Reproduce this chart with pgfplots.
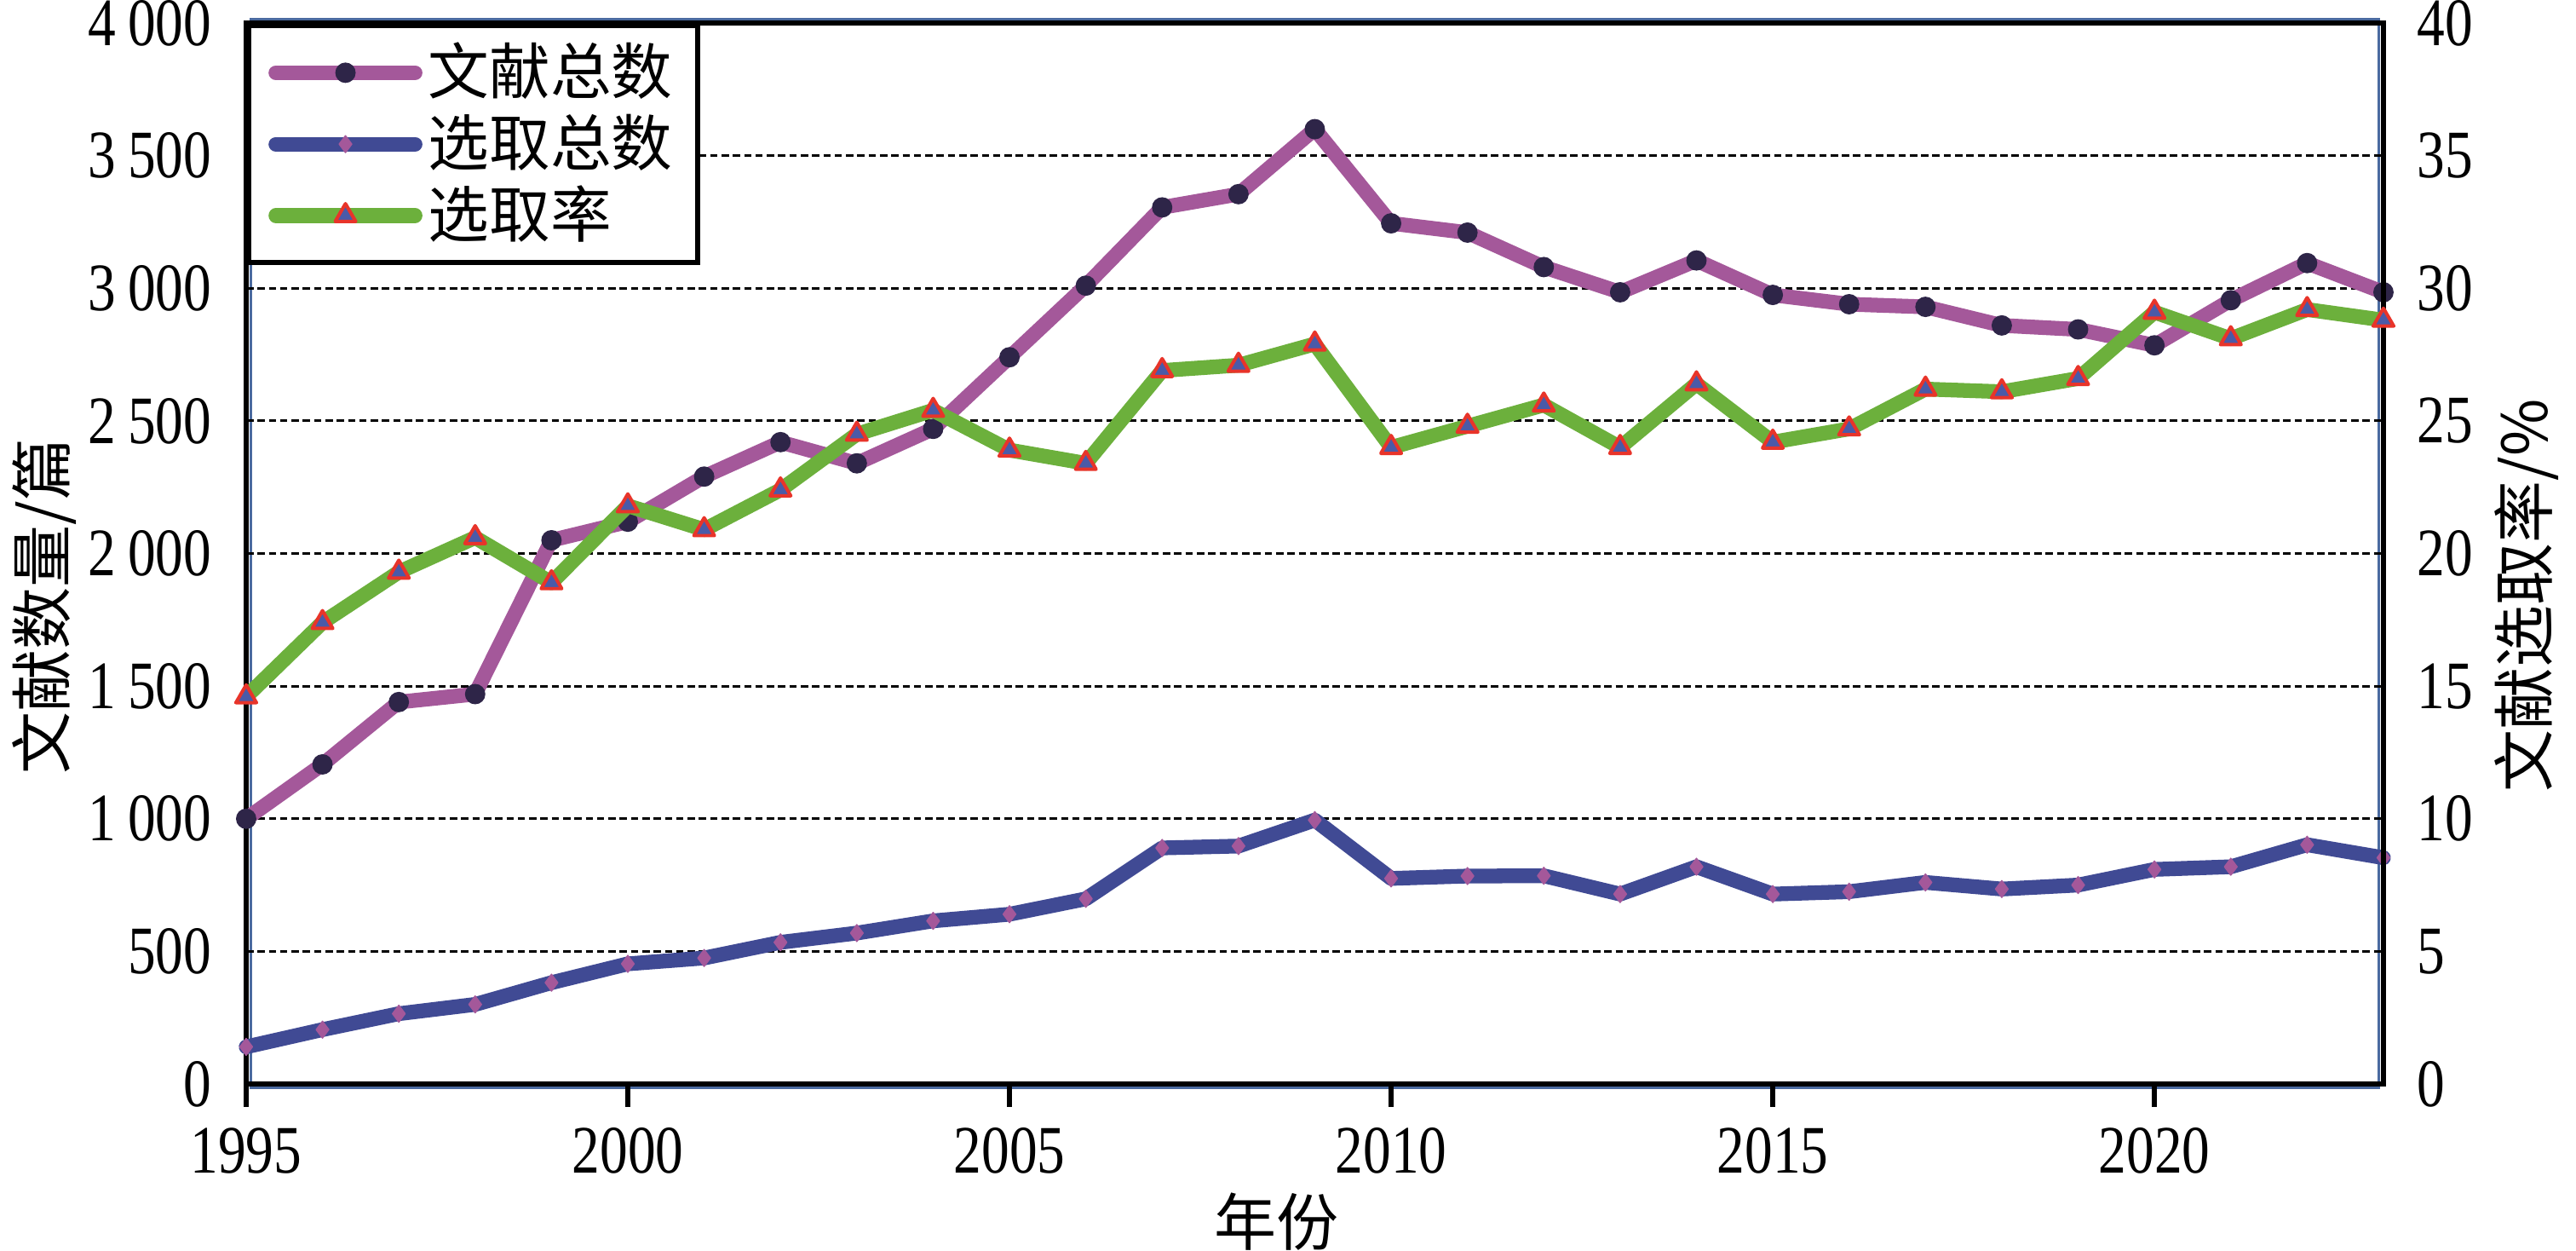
\documentclass[border=0pt]{standalone}
\usepackage{fontspec}
\setmainfont{Liberation Serif}
\newfontfamily\cjk{Noto Sans CJK SC}
\usepackage{graphicx}
\usepackage{pgfplots}
\usepackage{pgfplotstable}
\pgfplotsset{compat=1.18}

\definecolor{cPurple}{RGB}{164,88,154}
\definecolor{cBlue}{RGB}{64,74,148}
\definecolor{cGreen}{RGB}{108,176,60}
\definecolor{cDark}{RGB}{46,37,72}
\definecolor{cTriFill}{RGB}{74,90,168}
\definecolor{cRed}{RGB}{232,52,42}
\definecolor{cFrame}{RGB}{74,106,160}

\pgfplotstableread{
year total selected rate
1995 1000 140 14.6
1996 1205 205 17.4
1997 1440 265 19.3
1998 1470 300 20.6
1999 2050 382 18.9
2000 2120 453 21.8
2001 2290 475 20.9
2002 2420 534 22.4
2003 2340 569 24.5
2004 2470 615 25.4
2005 2740 640 23.9
2006 3010 698 23.4
2007 3305 890 26.9
2008 3355 897 27.1
2009 3600 995 27.9
2010 3245 775 24.0
2011 3210 784 24.8
2012 3080 785 25.6
2013 2985 716 24.0
2014 3105 819 26.4
2015 2975 716 24.2
2016 2940 725 24.7
2017 2930 760 26.2
2018 2860 735 26.1
2019 2845 750 26.6
2020 2785 809 29.1
2021 2955 819 28.1
2022 3095 902 29.2
2023 2985 853 28.8
}\datatable

\pgfplotsset{
  purpleplot/.style={cPurple, line width=2.6pt, line join=round, line cap=round,
    mark=*, mark size=1.7pt, mark options={solid, draw=cDark, fill=cDark, line width=0.2pt}},
  blueplot/.style={cBlue, line width=2.6pt, line join=round, line cap=round,
    mark=diamond*, mark size=1.5pt, mark options={solid, draw=cPurple, fill=cPurple, line width=0.2pt}},
  greenplot/.style={cGreen, line width=2.6pt, line join=round, line cap=round,
    mark=triangle*, mark size=2.1pt, mark options={solid, draw=cRed, fill=cTriFill, line width=0.6pt}},
  common/.style={
    scale only axis, width=13.275cm, height=6.587cm,
    xmin=1995, xmax=2023,
    clip=false,
    axis line style={black, line width=0.9pt},
    /pgf/number format/assume math mode=true,
    ticklabel style={font=\fontsize{12}{14}\selectfont},
    xticklabel={\scalebox{0.82}[1]{\pgfmathprintnumber{\tick}}},
    yticklabel={\scalebox{0.82}[1]{\pgfmathprintnumber{\tick}}},
  },
}

\begin{document}
\begin{tikzpicture}
\path[use as bounding box] (-1.529cm,-1.032cm) rectangle (14.471cm,6.730cm);
\draw[cFrame, line width=0.5pt] (0.8pt,-0.7pt) rectangle ([xshift=-0.8pt,yshift=0.7pt]13.275cm,6.587cm);
\begin{axis}[common,
  ymin=0, ymax=4000,
  xtick={1995,2000,...,2020}, ytick={0,500,...,4000},
  xtick pos=bottom, ytick pos=left,
  tick align=outside, major tick length=4pt,
  x tick style={line width=0.8pt, black},
  y tick style={draw=none},
  ymajorgrids, grid style={black, line width=0.45pt, dash pattern=on 1.3pt off 0.7pt},
  x tick label style={/pgf/number format/1000 sep={}, yshift=-0.2pt},
  y tick label style={/pgf/number format/1000 sep={\hspace{0.22em}}, xshift=1.4pt},
  xlabel={年份}, ylabel={文献数量/篇},
  every axis x label/.style={at={(axis description cs:0.482,-0.13)}, anchor=center, font=\cjk\fontsize{11}{13}\selectfont},
  every axis y label/.style={at={(axis description cs:-0.0945,0.45)}, anchor=center, rotate=90, font=\cjk\fontsize{11}{13}\selectfont},
]
\addplot[purpleplot] table[x=year,y=total]{\datatable};
\addplot[blueplot] table[x=year,y=selected]{\datatable};
\end{axis}
\begin{axis}[common,
  ymin=0, ymax=40,
  axis x line=none, axis y line*=right,
  ytick={0,5,...,40},
  y tick style={draw=none},
  y tick label style={xshift=2.4pt},
  ylabel={文献选取率/\%},
  every axis y label/.style={at={(axis description cs:1.067,0.46)}, anchor=center, rotate=90, font=\cjk\fontsize{11}{13}\selectfont},
  legend style={at={(axis description cs:0,1)}, anchor=north west, draw=black, line width=0.9pt, fill=white,
    font=\cjk\fontsize{10.8}{13}\selectfont, inner xsep=3.5pt, inner ysep=2pt, row sep=0pt,
    nodes={inner sep=1pt}, cells={anchor=west}},
  legend cell align=left,
  legend image code/.code={\draw[#1, mark repeat=2, mark phase=2] plot coordinates {(0pt,0pt) (12.3pt,0pt) (24.6pt,0pt)};},
]
\addlegendimage{purpleplot}
\addlegendentry{文献总数}
\addlegendimage{blueplot}
\addlegendentry{选取总数}
\addplot[greenplot] table[x=year,y=rate]{\datatable};
\addlegendentry{选取率}
\end{axis}
\end{tikzpicture}
\end{document}
